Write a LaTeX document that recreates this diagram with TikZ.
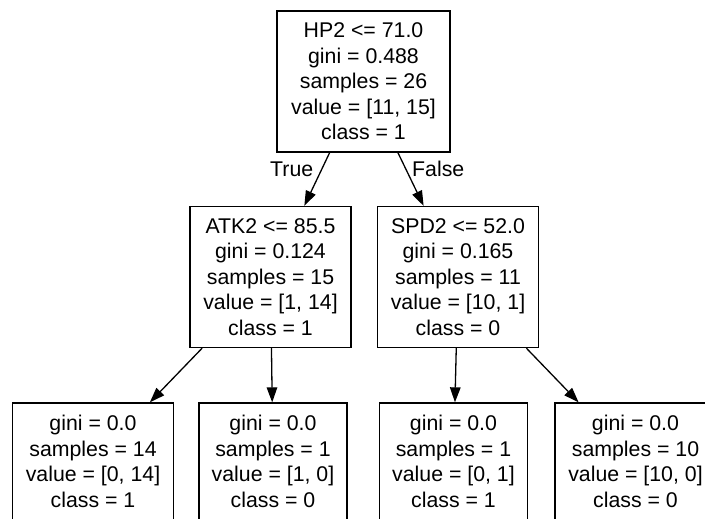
\documentclass[tikz,border=0pt]{standalone}
\usepackage{fontspec}
\setmainfont{Liberation Sans}
\usetikzlibrary{arrows.meta}
\begin{document}
\begin{tikzpicture}[x=1pt,y=-1pt,
  treefont/.style={font=\fontsize{21.3}{25.5}\selectfont},
  treenode/.style={treefont, draw=black, line width=1.3pt, rectangle,
    inner sep=0pt, align=center, text=black, minimum height=141pt},
  leafnode/.style={treenode, minimum height=117pt},
  edge/.style={draw=black, line width=1.3pt,
    -{Triangle[length=15pt,width=10.5pt]}},
  edgelabel/.style={treefont, inner sep=0pt, anchor=base west}]
\useasboundingbox (0,0) rectangle (705,519);
\clip (0,0) rectangle (705,519);

% split nodes
\node[treenode, minimum width=173pt] (root) at (363.5,81.5)
  {HP2 <= 71.0\\gini = 0.488\\samples = 26\\value = [11, 15]\\class = 1};
\node[treenode, minimum width=161pt] (atk) at (270.5,277)
  {ATK2 <= 85.5\\gini = 0.124\\samples = 15\\value = [1, 14]\\class = 1};
\node[treenode, minimum width=161pt] (spd) at (458,277)
  {SPD2 <= 52.0\\gini = 0.165\\samples = 11\\value = [10, 1]\\class = 0};

% leaves
\node[leafnode, minimum width=161pt] (leafa) at (93,461.5)
  {gini = 0.0\\samples = 14\\value = [0, 14]\\class = 1};
\node[leafnode, minimum width=148pt] (leafb) at (273,461.5)
  {gini = 0.0\\samples = 1\\value = [1, 0]\\class = 0};
\node[leafnode, minimum width=148pt] (leafc) at (453.5,461.5)
  {gini = 0.0\\samples = 1\\value = [0, 1]\\class = 1};
\node[leafnode, minimum width=161pt] (leafd) at (635.5,461.5)
  {gini = 0.0\\samples = 10\\value = [10, 0]\\class = 0};

% connectors
\draw[edge] (root) -- (atk);
\draw[edge] (root) -- (spd);
\draw[edge] (atk) -- (leafa);
\draw[edge] (atk) -- (leafb);
\draw[edge] (spd) -- (leafc);
\draw[edge] (spd) -- (leafd);

% branch labels
\node[edgelabel] (lbltrue) at (270,176) {True};
\node[edgelabel] (lblfalse) at (412,176) {False};
\end{tikzpicture}
\end{document}
